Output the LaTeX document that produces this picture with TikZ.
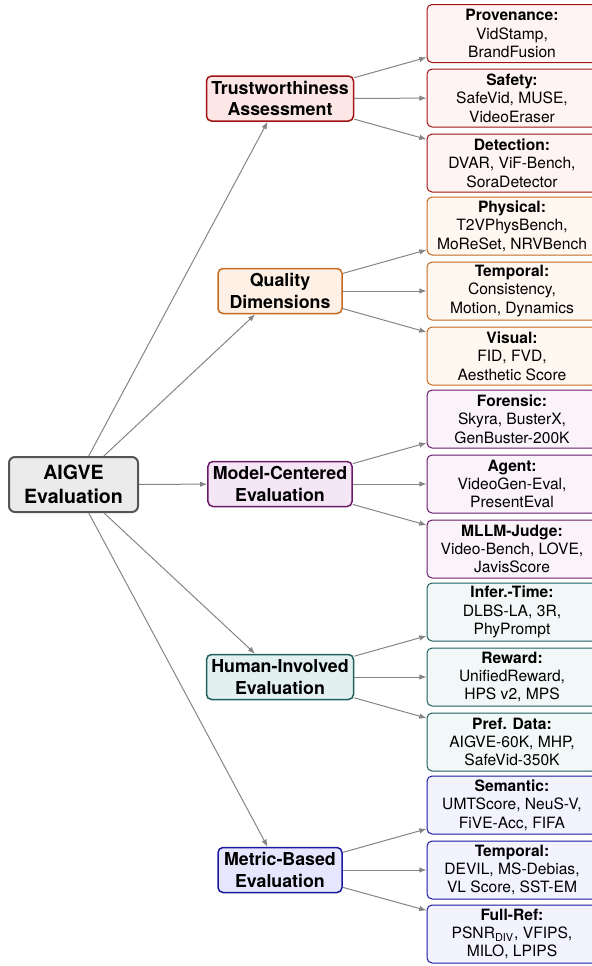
\documentclass[tikz,border=0pt]{standalone}
\usepackage{fontspec}
\setmainfont{TeX Gyre Heros}
\usetikzlibrary{arrows.meta}

\definecolor{rootline}{HTML}{555555}
\definecolor{rootfill}{HTML}{EBEBEB}
\definecolor{redline}{HTML}{A01414}
\definecolor{redfill}{HTML}{FDE6E6}
\definecolor{redleaf}{HTML}{FFF4F4}
\definecolor{orgline}{HTML}{C46A1E}
\definecolor{orgfill}{HTML}{FEF0E4}
\definecolor{orgleaf}{HTML}{FFF8F0}
\definecolor{purline}{HTML}{6A1B6A}
\definecolor{purfill}{HTML}{F5E6F5}
\definecolor{purleaf}{HTML}{FAF3FA}
\definecolor{tealine}{HTML}{1E5F5F}
\definecolor{teafill}{HTML}{E3F0F0}
\definecolor{tealeaf}{HTML}{F1F8F7}
\definecolor{bluline}{HTML}{1A1AA0}
\definecolor{blufill}{HTML}{E6E6FF}
\definecolor{bluleaf}{HTML}{F3F3FF}
\definecolor{linkgray}{HTML}{858585}

\begin{document}
\begin{tikzpicture}[
    x=0.5pt, y=-0.5pt,
    rootnode/.style={draw=rootline, fill=rootfill, line width=1pt, rounded corners=3pt,
        align=center, minimum width=64.5pt, minimum height=27.5pt, inner sep=2pt,
        font=\fontsize{9.8}{12}\selectfont\bfseries},
    midnode/.style={line width=0.75pt, rounded corners=2.5pt, align=center,
        minimum width=62pt, minimum height=22.5pt, inner xsep=2.4pt, inner ysep=1.5pt,
        font=\fontsize{8.9}{10.85}\selectfont\bfseries},
    leafnode/.style={line width=0.5pt, rounded corners=2.5pt, align=center,
        minimum width=85pt, minimum height=29pt, inner sep=1.5pt,
        font=\fontsize{7.8}{9.2}\selectfont},
    link/.style={draw=linkgray, line width=0.5pt, -{Latex[length=3.6pt,width=2.8pt]}}
]
\clip (0,0) rectangle (592,966);

% Root
\node[rootnode] (aigve) at (73.5,484.5) {AIGVE\\Evaluation};

% Trustworthiness
\node[midnode, draw=redline, fill=redfill] (trust) at (280,98.5) {Trustworthiness\\Assessment};
\node[leafnode, draw=redline, fill=redleaf] (prov) at (512,33.5) {\textbf{Provenance:}\\VidStamp,\\BrandFusion};
\node[leafnode, draw=redline, fill=redleaf] (safe) at (512,98) {\textbf{Safety:}\\SafeVid, MUSE,\\VideoEraser};
\node[leafnode, draw=redline, fill=redleaf] (detc) at (512,163) {\textbf{Detection:}\\DVAR, ViF-Bench,\\SoraDetector};

% Quality
\node[midnode, draw=orgline, fill=orgfill] (qual) at (280,291) {Quality\\Dimensions};
\node[leafnode, draw=orgline, fill=orgleaf] (phys) at (512,226) {\textbf{Physical:}\\T2VPhysBench,\\MoReSet, NRVBench};
\node[leafnode, draw=orgline, fill=orgleaf] (tmpq) at (512,291) {\textbf{Temporal:}\\Consistency,\\Motion, Dynamics};
\node[leafnode, draw=orgline, fill=orgleaf] (visu) at (512,356) {\textbf{Visual:}\\FID, FVD,\\Aesthetic Score};

% Model-centered
\node[midnode, draw=purline, fill=purfill] (model) at (280,484) {Model-Centered\\Evaluation};
\node[leafnode, draw=purline, fill=purleaf] (fore) at (512,419) {\textbf{Forensic:}\\Skyra, BusterX,\\GenBuster-200K};
\node[leafnode, draw=purline, fill=purleaf] (agent) at (512,484) {\textbf{Agent:}\\VideoGen-Eval,\\PresentEval};
\node[leafnode, draw=purline, fill=purleaf] (mllm) at (512,549) {\textbf{MLLM-Judge:}\\Video-Bench, LOVE,\\JavisScore};

% Human-involved
\node[midnode, draw=tealine, fill=teafill] (human) at (280,677) {Human-Involved\\Evaluation};
\node[leafnode, draw=tealine, fill=tealeaf] (infer) at (512,612) {\textbf{Infer.-Time:}\\DLBS-LA, 3R,\\PhyPrompt};
\node[leafnode, draw=tealine, fill=tealeaf] (rewd) at (512,677) {\textbf{Reward:}\\UnifiedReward,\\HPS v2, MPS};
\node[leafnode, draw=tealine, fill=tealeaf] (pref) at (512,742) {\textbf{Pref. Data:}\\AIGVE-60K, MHP,\\SafeVid-350K};

% Metric-based
\node[midnode, draw=bluline, fill=blufill] (metric) at (280,870) {Metric-Based\\Evaluation};
\node[leafnode, draw=bluline, fill=bluleaf] (sema) at (512,805) {\textbf{Semantic:}\\UMTScore, NeuS-V,\\FiVE-Acc, FIFA};
\node[leafnode, draw=bluline, fill=bluleaf] (tmpm) at (512,870) {\textbf{Temporal:}\\DEVIL, MS-Debias,\\VL Score, SST-EM};
\node[leafnode, draw=bluline, fill=bluleaf] (fref) at (512,934) {\textbf{Full-Ref:}\\PSNR\textsubscript{DIV}, VFIPS,\\MILO, LPIPS};

% Links
\foreach \m in {trust, qual, model, human, metric}
    \draw[link] (aigve) -- (\m);
\foreach \m/\a/\b/\c in {trust/prov/safe/detc, qual/phys/tmpq/visu, model/fore/agent/mllm,
        human/infer/rewd/pref, metric/sema/tmpm/fref} {
    \draw[link] (\m) -- (\a);
    \draw[link] (\m) -- (\b);
    \draw[link] (\m) -- (\c);
}
\end{tikzpicture}
\end{document}
